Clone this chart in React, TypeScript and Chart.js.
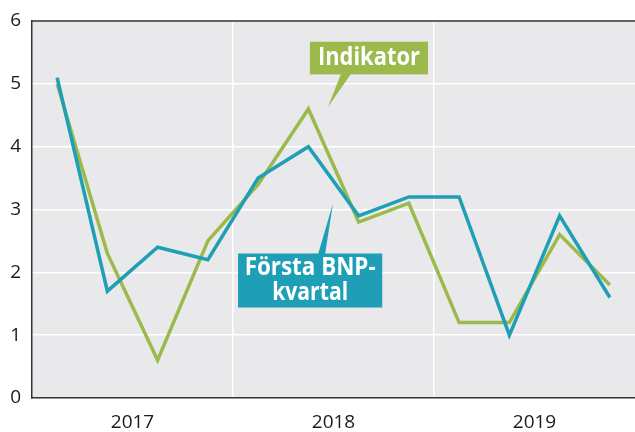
import React, { useEffect, useRef } from "react";
import { Chart, registerables } from "chart.js";

Chart.register(...registerables);

const quarters = ["2017Q1","2017Q2","2017Q3","2017Q4","2018Q1","2018Q2","2018Q3","2018Q4","2019Q1","2019Q2","2019Q3","2019Q4"];
const years = ["2017", "2018", "2019"];
const indikator = [5.0, 2.3, 0.6, 2.5, 3.4, 4.6, 2.8, 3.1, 1.2, 1.2, 2.6, 1.8];
const forstaBnp = [5.1, 1.7, 2.4, 2.2, 3.5, 4.0, 2.9, 3.2, 3.2, 1.0, 2.9, 1.6];
const yTicks = [0, 1, 2, 3, 4, 5, 6];

const GREEN = "#9bba4b";
const TEAL = "#1e9fb6";
const BG = "#e9e9ec";
const AXIS = "#333333";
const FONT = "'Open Sans', 'DejaVu Sans', sans-serif";

const toXY = (arr: number[]) => arr.map((v, i) => ({ x: i + 0.5, y: v }));

function drawCallout(
  ctx: CanvasRenderingContext2D,
  chart: any,
  box: { x0: number; x1: number; y0: number; y1: number },
  base: { xa: number; xb: number; y: number },
  tip: { x: number; y: number },
  lines: string[],
  color: string,
  fontSize: number,
  lineH: number,
  textWidths: number[]
) {
  const xs = chart.scales.x;
  const ys = chart.scales.y;
  const px = (v: number) => xs.getPixelForValue(v);
  const py = (v: number) => ys.getPixelForValue(v);
  const L = px(box.x0), R = px(box.x1), T = py(box.y0), B = py(box.y1);
  ctx.save();
  ctx.fillStyle = color;
  ctx.fillRect(L, T, R - L, B - T);
  ctx.beginPath();
  ctx.moveTo(px(base.xa), py(base.y));
  ctx.lineTo(px(tip.x), py(tip.y));
  ctx.lineTo(px(base.xb), py(base.y));
  ctx.closePath();
  ctx.fill();
  ctx.fillStyle = "#ffffff";
  ctx.font = `bold ${fontSize}px ${FONT}`;
  ctx.textAlign = "center";
  ctx.textBaseline = "middle";
  const cx = (L + R) / 2;
  const cy = (T + B) / 2;
  lines.forEach((t, i) => {
    const y = cy + (i - (lines.length - 1) / 2) * lineH;
    const w = ctx.measureText(t).width;
    const target = textWidths[i];
    const s = w > target ? target / w : 1;
    ctx.save();
    ctx.translate(cx, y);
    ctx.scale(s, 1);
    ctx.fillText(t, 0, 0);
    ctx.restore();
  });
  ctx.restore();
}

const decorPlugin = {
  id: "decor",
  beforeDraw(chart: any) {
    const { ctx, chartArea } = chart;
    ctx.save();
    ctx.fillStyle = BG;
    ctx.fillRect(chartArea.left, chartArea.top, chartArea.right - chartArea.left, chartArea.bottom - chartArea.top);
    ctx.restore();
  },
  afterDatasetsDraw(chart: any) {
    const { ctx, chartArea } = chart;
    ctx.save();
    ctx.strokeStyle = AXIS;
    ctx.lineWidth = 1.5;
    ctx.beginPath();
    ctx.moveTo(chartArea.left, chartArea.top);
    ctx.lineTo(chartArea.right, chartArea.top);
    ctx.stroke();
    ctx.restore();
    drawCallout(
      ctx, chart,
      { x0: 5.53, x1: 7.88, y0: 5.67, y1: 5.15 },
      { xa: 6.15, xb: 6.35, y: 5.16 },
      { x: 5.89, y: 4.63 },
      ["Indikator"], GREEN, 25, 26, [102]
    );
    drawCallout(
      ctx, chart,
      { x0: 4.1, x1: 6.97, y0: 2.3, y1: 1.44 },
      { xa: 5.69, xb: 5.83, y: 2.28 },
      { x: 5.99, y: 3.1 },
      ["Första BNP-", "kvartal"], TEAL, 25, 25, [131, 76]
    );
  },
};

export default function App() {
  const ref = useRef<HTMLCanvasElement | null>(null);
  useEffect(() => {
    if (!ref.current) return;
    const chart = new Chart(ref.current, {
      type: "line",
      data: {
        datasets: [
          {
            label: "Första BNP-kvartal",
            data: toXY(forstaBnp),
            borderColor: TEAL,
            borderWidth: 3.5,
            pointRadius: 0,
            tension: 0,
            borderJoinStyle: "miter",
            fill: false,
          },
          {
            label: "Indikator",
            data: toXY(indikator),
            borderColor: GREEN,
            borderWidth: 3.5,
            pointRadius: 0,
            tension: 0,
            borderJoinStyle: "miter",
            fill: false,
          },
        ],
      },
      options: {
        animation: false,
        responsive: false,
        events: [],
        layout: { padding: { top: 21, right: 0, left: 0, bottom: 0 } },
        plugins: { legend: { display: false }, tooltip: { enabled: false } },
        scales: {
          x: {
            type: "linear",
            min: 0,
            max: quarters.length,
            afterBuildTicks: (scale: any) => {
              const t: any[] = [];
              for (let v = 0; v <= quarters.length; v += 2) t.push({ value: v });
              scale.ticks = t;
            },
            afterFit: (scale: any) => {
              scale.height = 34;
              scale.paddingLeft = 0;
              scale.paddingRight = 0;
            },
            ticks: {
              autoSkip: false,
              maxRotation: 0,
              padding: 13,
              color: "#1a1a1a",
              font: { family: FONT, size: 19 },
              callback: (v: any) => {
                const n = Number(v);
                if (n % 4 === 2) return years[(n - 2) / 4] ?? "";
                return "";
              },
            },
            grid: {
              drawTicks: false,
              lineWidth: 1.5,
              color: (c: any) => {
                const v = c.tick ? c.tick.value : -1;
                return v > 0 && v < quarters.length && v % 4 === 0 ? "#ffffff" : "rgba(0,0,0,0)";
              },
            },
            border: { display: true, color: AXIS, width: 1.5 },
          },
          y: {
            min: 0,
            max: 6,
            afterBuildTicks: (scale: any) => {
              scale.ticks = yTicks.map((v) => ({ value: v }));
            },
            afterFit: (scale: any) => {
              scale.width = 32;
              scale.paddingTop = 0;
              scale.paddingBottom = 0;
            },
            ticks: {
              padding: 11,
              color: "#1a1a1a",
              font: { family: FONT, size: 19 },
            },
            grid: {
              drawTicks: false,
              lineWidth: 1.5,
              color: (c: any) => {
                const v = c.tick ? c.tick.value : -1;
                return v > 0 && v < 6 ? "#ffffff" : "rgba(0,0,0,0)";
              },
            },
            border: { display: true, color: AXIS, width: 1.5 },
          },
        },
      },
      plugins: [decorPlugin],
    } as any);
    return () => chart.destroy();
  }, []);
  return (
    <div style={{ position: "absolute", left: 0, top: 0, width: 635, height: 432, background: "#fff" }}>
      <canvas ref={ref} width={635} height={432} />
    </div>
  );
}
